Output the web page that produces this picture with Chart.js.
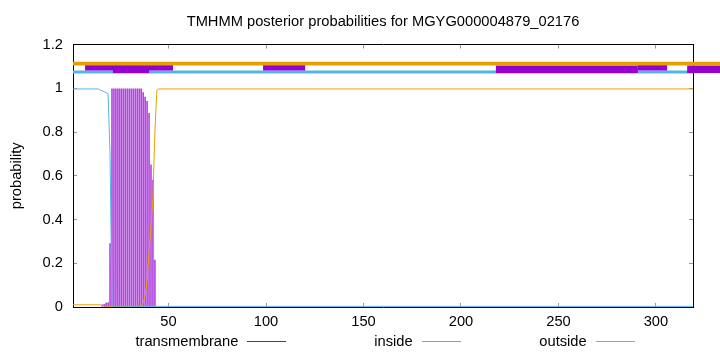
<!DOCTYPE html>
<html>
<head>
<meta charset="utf-8">
<script src="https://cdn.jsdelivr.net/npm/chart.js@4.4.1/dist/chart.umd.min.js"></script>
<style>
  body { margin: 0; background: #fff; }
  #wrap { position: relative; width: 720px; height: 352px; font-family: 'Liberation Sans', Arial, sans-serif; }
  .key-text { position: absolute; top: 332px; height: 18px; line-height: 18px; font-size: 14.7px; color: #000; white-space: nowrap; }
  .key-line { position: absolute; top: 341px; height: 1px; width: 39px; }
</style>
</head>
<body>
<div id="wrap">
  <canvas id="tmhmm" width="720" height="352"></canvas>
</div>
<script>
// sequence / axis
const seqStart = 1;
const seqEnd = 319;
const xTickValues = [50, 100, 150, 200, 250, 300];
const yTickValues = [0, 0.2, 0.4, 0.6, 0.8, 1, 1.2];
const yTickLabels = ['0', '0.2', '0.4', '0.6', '0.8', '1', '1.2'];

// posterior probabilities
const tmResidues = [16, 17, 18, 19, 20, 21, 22, 23, 24, 25, 26, 27, 28, 29, 30, 31, 32, 33, 34, 35, 36, 37, 38, 39, 40, 41, 42, 43];
const tmProb = [0.01, 0.012, 0.018, 0.02, 0.29, 0.997, 0.997, 0.997, 0.997, 0.997, 0.997, 0.997, 0.997, 0.997, 0.997, 0.997, 0.997, 0.997, 0.997, 0.997, 0.997, 0.98, 0.96, 0.94, 0.885, 0.65, 0.58, 0.215];

const insideResidues = [1, 14, 15, 16, 17, 18, 19, 20, 21, 45, 319];
const insideProb = [0.997, 0.997, 0.992, 0.988, 0.984, 0.98, 0.975, 0.7, 0.004, 0.003, 0.003];

const outsideResidues = [1, 15, 17, 18, 36, 37, 38, 39, 40, 41, 42, 43, 44, 45, 319];
const outsideProb = [0.01, 0.01, 0.005, 0.002, 0.002, 0.02, 0.05, 0.12, 0.25, 0.37, 0.5, 0.8, 0.99, 0.997, 0.997];

// topology bars on top (residue ranges, some run past the plot edge like in the source)
const outsideBand = [[1, 333]];
const insideBand = [[1, 319]];
const tmBandThin = [[7.2, 52.3], [98.5, 120.1], [290.7, 305.7]];
const tmBandThick = [[21.5, 40.0]];
const tmBandMid = [[217.9, 290.7], [316.0, 333]];

const titleText = 'TMHMM posterior probabilities for MGYG000004879_02176';

const FONT = "'Liberation Sans', Arial, sans-serif";
const COL_TM = '#9400d3';
const COL_IN = '#56b4e9';
const COL_OUT = '#e69f00';

const toPoints = (xs, ys) => xs.map((x, i) => ({ x: x, y: ys[i] }));

const bandPoints = (ranges, level) => {
  let pts = [];
  ranges.forEach((r, i) => {
    if (i > 0) pts.push({ x: (ranges[i - 1][1] + r[0]) / 2, y: null });
    pts.push({ x: r[0], y: level });
    pts.push({ x: r[1], y: level });
  });
  return pts;
};

const bandDataset = (ranges, level, color, width, order) => ({
  type: 'line',
  data: bandPoints(ranges, level),
  borderColor: color,
  borderWidth: width,
  borderCapStyle: 'butt',
  pointRadius: 0,
  spanGaps: false,
  clip: false,
  order: order
});

const frameAxis = (position, isX) => ({
  type: 'linear',
  position: position,
  min: isX ? seqStart : 0,
  max: isX ? seqEnd : 1.2,
  afterBuildTicks: (s) => { s.ticks = (isX ? xTickValues : yTickValues).map(v => ({ value: v })); },
  afterFit: (s) => { if (isX) s.height = 0; else s.width = 0; },
  ticks: { display: false },
  grid: { drawOnChartArea: false, drawTicks: true, tickLength: -4, tickColor: '#999' },
  border: { display: true, color: '#000', width: 1 }
});

const chart = new Chart('tmhmm', {
  type: 'line',
  data: {
    datasets: [
      Object.assign(bandDataset(outsideBand, 1.113, COL_OUT, 3.7, 0), { label: 'outside band' }),
      Object.assign(bandDataset(tmBandThick, 1.094, COL_TM, 10.8, 1), { label: 'tm band thick' }),
      Object.assign(bandDataset(tmBandThin, 1.094, COL_TM, 5.4, 2), { label: 'tm band' }),
      Object.assign(bandDataset(tmBandMid, 1.087, COL_TM, 7.4, 3), { label: 'tm band mid' }),
      Object.assign(bandDataset(insideBand, 1.074, COL_IN, 3, 4), { label: 'inside band' }),
      {
        label: 'inside',
        data: toPoints(insideResidues, insideProb),
        borderColor: COL_IN,
        borderWidth: 1,
        pointRadius: 0,
        order: 5
      },
      {
        label: 'outside',
        data: toPoints(outsideResidues, outsideProb),
        borderColor: COL_OUT,
        borderWidth: 1,
        pointRadius: 0,
        order: 6
      },
      {
        type: 'bar',
        label: 'transmembrane',
        data: toPoints(tmResidues, tmProb),
        backgroundColor: 'rgba(148, 0, 211, 0.72)',
        borderWidth: 0,
        barThickness: 1,
        grouped: false,
        order: 7
      }
    ]
  },
  options: {
    responsive: false,
    animation: false,
    devicePixelRatio: 1,
    events: [],
    layout: { padding: { left: 0, right: 27, top: 0, bottom: 0 } },
    plugins: {
      legend: { display: false },
      tooltip: { enabled: false },
      title: {
        display: true,
        text: titleText,
        fullSize: false,
        color: '#000',
        font: { family: FONT, size: 14.7, weight: 'normal', lineHeight: 1.2 },
        padding: { top: 13.3, bottom: 13.6 }
      }
    },
    scales: {
      x: {
        type: 'linear',
        position: 'bottom',
        min: seqStart,
        max: seqEnd,
        offset: false,
        afterBuildTicks: (s) => { s.ticks = xTickValues.map(v => ({ value: v })); },
        afterFit: (s) => { s.height = 45; },
        ticks: {
          padding: 10,
          autoSkip: false,
          maxRotation: 0,
          color: '#000',
          font: { family: FONT, size: 14.7 },
          callback: (v, i) => String(xTickValues[i])
        },
        grid: { offset: false, drawOnChartArea: false, drawTicks: true, tickLength: -4, tickColor: '#999' },
        border: { display: true, color: '#000', width: 1 }
      },
      y: {
        type: 'linear',
        position: 'left',
        min: 0,
        max: 1.2,
        afterBuildTicks: (s) => { s.ticks = yTickValues.map(v => ({ value: v })); },
        afterFit: (s) => { s.width = 73; },
        ticks: {
          padding: 14,
          color: '#000',
          font: { family: FONT, size: 14.7 },
          callback: (v, i) => yTickLabels[i]
        },
        grid: { drawOnChartArea: false, drawTicks: true, tickLength: -4, tickColor: '#999' },
        border: { display: true, color: '#000', width: 1 },
        title: {
          display: true,
          text: 'probability',
          color: '#000',
          font: { family: FONT, size: 14.7, lineHeight: 1.2 },
          padding: { top: 8, bottom: 0 }
        }
      },
      xTop: frameAxis('top', true),
      yRight: frameAxis('right', false)
    }
  }
});

// gnuplot-style key under the axis: text first, then a line sample
const keyLabels = ['transmembrane', 'inside', 'outside'];
const keyTextEnd = [238.3, 412.7, 586.7];
const keyLineStart = [247.3, 422.3, 596];
const keyColors = [COL_TM, COL_IN, COL_OUT];
const wrap = document.getElementById('wrap');
keyLabels.forEach((lbl, i) => {
  const t = document.createElement('div');
  t.className = 'key-text';
  t.textContent = lbl;
  t.style.right = (720 - keyTextEnd[i]) + 'px';
  wrap.appendChild(t);
  const l = document.createElement('div');
  l.className = 'key-line';
  l.style.left = keyLineStart[i] + 'px';
  l.style.background = keyColors[i];
  wrap.appendChild(l);
});
</script>
</body>
</html>
